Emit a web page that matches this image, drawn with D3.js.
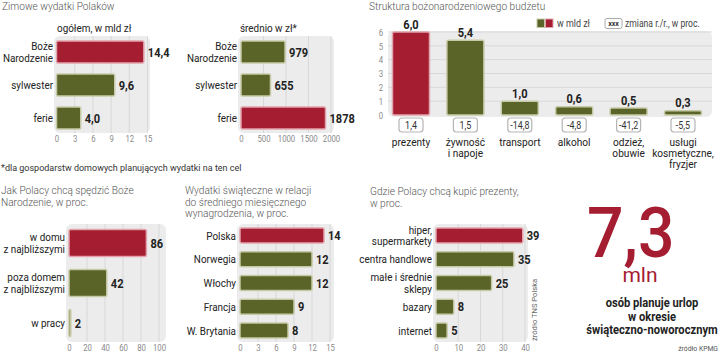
<!DOCTYPE html>
<html><head><meta charset="utf-8">
<script src="https://cdn.jsdelivr.net/npm/d3@7"></script>
<style>
body{margin:0;background:#fff;}
svg text{font-family:Roboto,"Noto Sans",sans-serif;}
</style></head><body>
<svg id="c" width="720" height="354"></svg>
<script>
// ---------- data ----------
const ogolemCats = ["Boże\nNarodzenie", "sylwester", "ferie"];
const ogolemVals = [14.4, 9.6, 4.0];
const ogolemLabels = ["14,4", "9,6", "4,0"];
const ogolemTicks = [0, 3, 6, 9, 12, 15];

const sredCats = ["Boże\nNarodzenie", "sylwester", "ferie"];
const sredVals = [979, 655, 1878];
const sredTicks = [0, 500, 1000, 1500, 2000];

const budCats = ["prezenty", "żywność\ni napoje", "transport", "alkohol", "odzież,\nobuwie", "usługi\nkosmetyczne,\nfryzjer"];
const budVals = [6.0, 5.4, 1.0, 0.6, 0.5, 0.3];
const budLabels = ["6,0", "5,4", "1,0", "0,6", "0,5", "0,3"];
const budChange = ["1,4", "1,5", "-14,8", "-4,8", "-41,2", "-5,5"];
const budTicks = [0, 1, 2, 3, 4, 5, 6];

const spendCats = ["w domu\nz najbliższymi", "poza domem\nz najbliższymi", "w pracy"];
const spendVals = [86, 42, 2];
const spendTicks = [0, 20, 40, 60, 80, 100];

const wageCats = ["Polska", "Norwegia", "Włochy", "Francja", "W. Brytania"];
const wageVals = [14, 12, 12, 9, 8];
const wageTicks = [0, 3, 6, 9, 12, 15];

const shopCats = ["hiper,\nsupermarkety", "centra handlowe", "małe i średnie\nsklepy", "bazary", "internet"];
const shopVals = [39, 35, 25, 8, 5];
const shopTicks = [0, 10, 20, 30, 40];

// ---------- styles ----------
const RED = "#a51d31", RED_S = "#e2a3ac", GRN = "#5a6428", GRN_S = "#c7c9a6";
const BG = "#ececec", GRID = "#d8d8d8", DARK = "#222", GRAY = "#555", TICK = "#8a8a8a";
const svg = d3.select("#c");

function T(g, x, y, s, o = {}) {
  const size = o.size || 11, lh = o.lh || size * 1.05, sx = o.sx || 1;
  const lines = String(s).split("\n");
  let y0 = y;
  if (o.vcenter) y0 = y - (lines.length - 1) * lh / 2 + size * 0.35;
  const t = g.append("text")
    .attr("transform", `translate(${x},${y0})` + (o.rot ? ` rotate(${o.rot})` : "") + ` scale(${sx},1)`)
    .attr("font-size", size)
    .attr("font-weight", o.weight || 400)
    .attr("fill", o.fill || DARK)
    .attr("text-anchor", o.anchor || "start");
  lines.forEach((l, i) => t.append("tspan").attr("x", 0).attr("y", i * lh).text(l));
  return t;
}

function hbar(c) {
  const g = svg.append("g");
  const x = d3.scaleLinear().domain([0, c.max]).range([c.x0, c.x1]);
  const y = d3.scaleBand().domain(c.cats).range([c.y0, c.y1]).paddingInner(c.pad).paddingOuter(c.pad / 2);
  g.append("rect").attr("x", c.bg[0]).attr("y", c.bg[1]).attr("width", c.bg[2] - c.bg[0])
    .attr("height", c.bg[3] - c.bg[1]).attr("rx", 6).attr("fill", BG);
  g.selectAll(".grid").data(c.ticks.slice(1)).join("line")
    .attr("x1", d => x(d)).attr("x2", d => x(d))
    .attr("y1", c.bg[1]).attr("y2", c.bg[3]).attr("stroke", GRID).attr("stroke-width", 1);
  g.selectAll(".bar").data(c.vals).join("rect")
    .attr("x", x(0)).attr("y", (d, i) => y(c.cats[i]))
    .attr("width", d => x(d) - x(0)).attr("height", y.bandwidth()).attr("rx", 1.5)
    .attr("fill", (d, i) => i === c.hi ? RED : GRN)
    .attr("stroke", (d, i) => i === c.hi ? RED_S : GRN_S).attr("stroke-width", 1.5);
  c.vals.forEach((v, i) => {
    const cy = y(c.cats[i]) + y.bandwidth() / 2;
    T(g, x(v) + 4, cy + 4.6, c.labels ? c.labels[i] : v, {size: 13.5, weight: 700, sx: 0.82});
    T(g, c.labelX, cy, c.cats[i], {size: 11.5, anchor: "end", sx: 0.86, vcenter: true, lh: 11.5});
  });
  const ax = g.append("g").attr("transform", `translate(0,${c.tickY})`)
    .call(d3.axisBottom(x).tickValues(c.ticks).tickSize(0).tickFormat(d3.format("d")));
  ax.select(".domain").remove();
  ax.selectAll("text").attr("y", 0).attr("dy", "0.35em").attr("font-size", 9.5)
    .attr("fill", TICK).attr("font-family", null).attr("transform", "scale(0.82,1)");
  return g;
}

// ---------- titles ----------
T(svg, 2, 10, "Zimowe wydatki Polaków", {size: 11.5, weight: 300, fill: GRAY, sx: 0.88});
T(svg, 57, 32, "ogółem, w mld zł", {size: 11.5, sx: 0.86});
T(svg, 240, 32, "średnio w zł*", {size: 11.5, sx: 0.86});
T(svg, 1, 171, "*dla gospodarstw domowych planujących wydatki na ten cel", {size: 9, fill: "#333", sx: 1.0});

// ---------- panel 1 & 2 ----------
hbar({cats: ogolemCats, vals: ogolemVals, labels: ogolemLabels, ticks: ogolemTicks, max: 15,
  x0: 56.5, x1: 147.5, y0: 35.5, y1: 134.5, pad: 1 / 3, bg: [54, 36, 150, 133], hi: 0, tickY: 138.5, labelX: 53});
hbar({cats: sredCats, vals: sredVals, ticks: sredTicks, max: 2000,
  x0: 241, x1: 331, y0: 35.5, y1: 134.5, pad: 1 / 3, bg: [238, 36, 334, 133], hi: 2, tickY: 138.5, labelX: 237});

// ---------- budget ----------
(function () {
  const g = svg.append("g");
  const x = d3.scaleBand().domain(budCats).range([383.8, 710.2]).paddingInner(0.32).paddingOuter(0.16);
  const y = d3.scaleLinear().domain([0, 6]).range([115, 32]);
  T(g, 369, 10, "Struktura bożonarodzeniowego budżetu", {size: 11.5, weight: 300, fill: GRAY, sx: 0.88});
  g.append("rect").attr("x", 388).attr("y", 31).attr("width", 324).attr("height", 86).attr("rx", 6).attr("fill", BG);
  g.selectAll(".grid").data(budTicks.slice(1)).join("line")
    .attr("x1", 388).attr("x2", 712).attr("y1", d => y(d)).attr("y2", d => y(d))
    .attr("stroke", GRID);
  g.selectAll(".bar").data(budVals).join("rect")
    .attr("x", (d, i) => x(budCats[i])).attr("y", d => y(d))
    .attr("width", x.bandwidth()).attr("height", d => y(0) - y(d)).attr("rx", 1.5)
    .attr("fill", (d, i) => i === 0 ? RED : GRN)
    .attr("stroke", (d, i) => i === 0 ? RED_S : GRN_S).attr("stroke-width", 1.5);
  budVals.forEach((v, i) => {
    const cx = x(budCats[i]) + x.bandwidth() / 2;
    T(g, cx, y(v) - 3.5, budLabels[i], {size: 13.5, weight: 700, anchor: "middle", sx: 0.82});
    g.append("rect").attr("x", cx - 12).attr("y", 118).attr("width", 24).attr("height", 14).attr("rx", 3)
      .attr("fill", "#fff").attr("stroke", "#b5b5b5").attr("stroke-width", 1.2);
    T(g, cx, 128.5, budChange[i], {size: 10.5, anchor: "middle", fill: "#333", sx: 0.85});
    T(g, cx, 146, budCats[i], {size: 11.5, anchor: "middle", sx: 0.88, lh: 11});
  });
  const ax = g.append("g").attr("transform", "translate(383,0)")
    .call(d3.axisLeft(y).tickValues(budTicks).tickSize(0).tickPadding(0).tickFormat(d3.format("d")));
  ax.select(".domain").remove();
  ax.selectAll("text").attr("x", 0).attr("dy", "0.35em").attr("font-size", 9.5)
    .attr("fill", TICK).attr("font-family", null).attr("transform", "scale(0.82,1)");
  // legend
  g.append("rect").attr("x", 537).attr("y", 19).attr("width", 7.5).attr("height", 8.5).attr("fill", GRN).attr("stroke", GRN_S);
  g.append("rect").attr("x", 545.5).attr("y", 19).attr("width", 7.5).attr("height", 8.5).attr("fill", RED).attr("stroke", RED_S);
  T(g, 557, 27, "w mld zł", {size: 10.5, fill: "#444", sx: 0.85});
  g.append("rect").attr("x", 605).attr("y", 18.5).attr("width", 17).attr("height", 10).attr("rx", 2)
    .attr("fill", "#fff").attr("stroke", "#aaa");
  T(g, 613.5, 26, "xxx", {size: 7, weight: 700, anchor: "middle", fill: "#333"});
  T(g, 625, 27, "zmiana r./r., w proc.", {size: 10.5, fill: "#444", sx: 0.82});
})();

// ---------- bottom panels ----------
T(svg, 1, 194, "Jak Polacy chcą spędzić Boże\nNarodzenie, w proc.", {size: 11.5, weight: 300, fill: GRAY, sx: 0.88, lh: 11.7});
T(svg, 185, 194, "Wydatki świąteczne w relacji\ndo średniego miesięcznego\nwynagrodzenia, w proc.", {size: 11.5, weight: 300, fill: GRAY, sx: 0.88, lh: 11.7});
T(svg, 370, 195, "Gdzie Polacy chcą kupić prezenty,\nw proc.", {size: 11.5, weight: 300, fill: GRAY, sx: 0.88, lh: 11.7});

hbar({cats: spendCats, vals: spendVals, ticks: spendTicks, max: 100,
  x0: 69, x1: 159, y0: 223, y1: 343, pad: 0.325, bg: [66, 224, 166, 342], hi: 0, tickY: 348, labelX: 65});
hbar({cats: wageCats, vals: wageVals, ticks: wageTicks, max: 15,
  x0: 240, x1: 330, y0: 223.6, y1: 342.4, pad: 0.37, bg: [237, 224, 334, 342], hi: 0, tickY: 348, labelX: 236});
hbar({cats: shopCats, vals: shopVals, ticks: shopTicks, max: 40,
  x0: 436, x1: 525, y0: 223.6, y1: 342.4, pad: 0.37, bg: [433, 224, 528, 342], hi: 0, tickY: 348, labelX: 432});

T(svg, 537, 341, "źródło TNS Polska", {size: 8, fill: "#666", rot: -90, sx: 0.95});

// ---------- big number ----------
T(svg, 587, 257, "7,3", {size: 70, weight: 500, fill: RED, sx: 0.92});
T(svg, 640, 282, "mln", {size: 21, fill: RED, anchor: "middle"});
T(svg, 652, 307, "osób planuje urlop\nw okresie\nświąteczno-noworocznym", {size: 12, weight: 700, anchor: "middle", sx: 0.93, lh: 13.7});
T(svg, 718, 351, "źródło KPMG", {size: 8, fill: "#555", anchor: "end", sx: 0.85});
</script>
</body></html>
